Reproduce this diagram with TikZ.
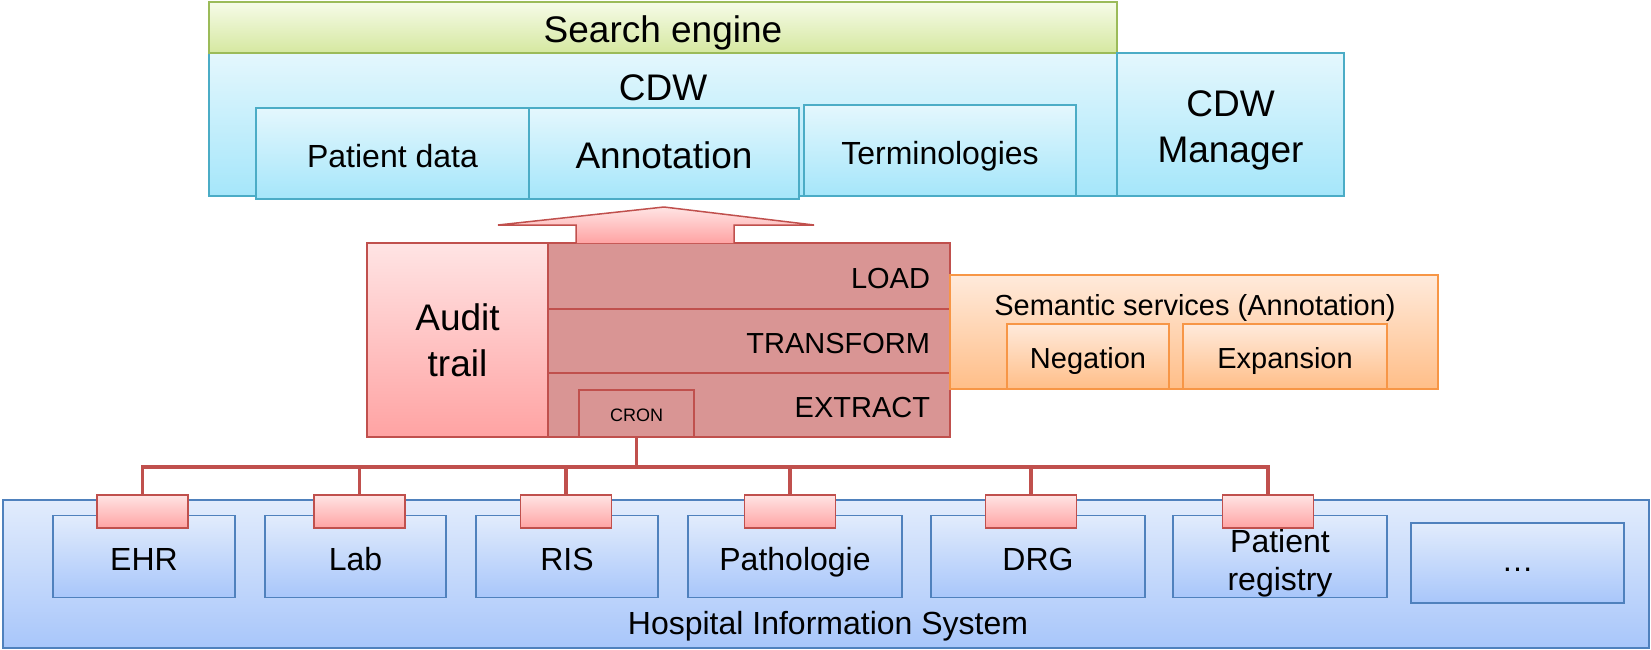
\documentclass[tikz,border=0pt]{standalone}
\usepackage{fontspec}
\setmainfont{Liberation Sans}
\usetikzlibrary{shadings}
\definecolor{grnB}{HTML}{9BBB59}
\definecolor{grnT}{HTML}{F6FBE8}
\definecolor{grnM}{HTML}{D5E8A0}
\definecolor{cyB}{HTML}{4BACC6}
\definecolor{cyT}{HTML}{E4F7FD}
\definecolor{cyM}{HTML}{A5E6FA}
\definecolor{rdB}{HTML}{C0504D}
\definecolor{rdT}{HTML}{FFE4E4}
\definecolor{rdM}{HTML}{FFA3A3}
\definecolor{rdF}{HTML}{D99594}
\definecolor{orB}{HTML}{F79646}
\definecolor{orT}{HTML}{FFEADB}
\definecolor{orM}{HTML}{FFBE88}
\definecolor{blB}{HTML}{4F81BD}
\definecolor{blT}{HTML}{E2ECFC}
\definecolor{blM}{HTML}{A8C6FA}
\newcommand{\fsA}{\fontsize{37}{46}\selectfont}
\newcommand{\fsB}{\fontsize{32}{38}\selectfont}
\newcommand{\fsC}{\fontsize{29}{34}\selectfont}
\newcommand{\fsD}{\fontsize{18}{22}\selectfont}
\tikzset{
  bx/.style={draw, line width=1.5pt, inner sep=0pt, outer sep=0pt, align=center, text=black},
  green/.style={bx, draw=grnB, top color=grnT, bottom color=grnM},
  cyan/.style={bx, draw=cyB, top color=cyT, bottom color=cyM},
  pinkg/.style={bx, draw=rdB, top color=rdT, bottom color=rdM},
  etl/.style={bx, draw=rdB, fill=rdF},
  orng/.style={bx, draw=orB, top color=orT, bottom color=orM},
  blu/.style={bx, draw=blB, top color=blT, bottom color=blM},
  capA/.style={font=\fsA, text height=30.5pt, text depth=0pt},
  capB/.style={font=\fsB, text height=27pt, text depth=0pt},
  capC/.style={font=\fsC, text height=24.8pt, text depth=0pt},
  capD/.style={font=\fsD, text height=15pt, text depth=0pt},
  etlrow/.style={etl, text width=362pt, inner xsep=20pt, align=right, capC},
  conn/.style={pinkg, minimum width=91pt, minimum height=33pt},
  hisbox/.style={blu, minimum width=182pt, minimum height=82pt, capB},
  bus/.style={draw=rdB, line width=3.5pt},
  txt/.style={inner sep=0pt, outer sep=0pt, text=black, align=center}
}
\begin{document}
\begin{tikzpicture}[x=1pt, y=-1pt]
\useasboundingbox (0,0) rectangle (1651,649);
% top
\node[cyan, minimum width=908pt, minimum height=143pt] (cdw) at (663,124.5) {};
\node[txt, capA] (cdwlab) at (663,85) {CDW};
\node[green, minimum width=908pt, minimum height=51pt, capA] (search) at (663,27.5) {Search engine};
\node[cyan, minimum width=227pt, minimum height=143pt] (mgr) at (1230.5,124.5) {};
\node[txt, font=\fsA] (mgrlab) at (1230.5,130.5) {CDW\\Manager};
\node[cyan, minimum width=273pt, minimum height=91pt, capB] (pdata) at (392.5,153.5) {Patient data};
\node[cyan, minimum width=270pt, minimum height=91pt, capA] (annot) at (664,153.5) {Annotation};
\node[cyan, minimum width=272pt, minimum height=91pt, capB] (term) at (940,150.5) {Terminologies};
% middle
\node[pinkg, minimum width=181pt, minimum height=194pt, font=\fsA] (audit) at (457.5,340) {Audit\\trail};
\node[etlrow, minimum height=66pt] (load) at (749,276) {LOAD};
\node[etlrow, minimum height=64pt] (transform) at (749,341) {TRANSFORM};
\node[etlrow, minimum height=64pt] (extract) at (749,405) {EXTRACT};
\node[etl, minimum width=115pt, minimum height=47pt, capD] (cron) at (636.5,413.5) {CRON};
\shade[top color=rdT, bottom color=rdM, draw=rdB, line width=1.5pt]
  ([xshift=28pt]load.north west) -- ++(0,-18) -- ++(-78,0) -- (annot.south |- 0,207)
  -- ([xshift=266pt,yshift=18pt]load.north west) -- ++(-80,0) -- ([xshift=186pt]load.north west);
\node[orng, minimum width=488pt, minimum height=114pt] (sem) at (1194,332) {};
\node[txt, capC] (semlab) at (1195,303) {Semantic services (Annotation)};
\node[orng, minimum width=162pt, minimum height=65pt, capC] (neg) at (1088,356.5) {Negation};
\node[orng, minimum width=204pt, minimum height=65pt, capC] (exp) at (1285,356.5) {Expansion};
% bottom
\node[blu, minimum width=1646pt, minimum height=148pt] (his) at (826,574) {};
\node[txt, capB] (hislab) at (828,620.5) {Hospital Information System};
\node[hisbox] (ehr) at (144,556.5) {EHR};
\node[hisbox, minimum width=181pt] (lab) at (355.5,556.5) {Lab};
\node[hisbox] (ris) at (567,556.5) {RIS};
\node[hisbox, minimum width=214pt] (patho) at (795,556.5) {Pathologie};
\node[hisbox, minimum width=214pt] (drg) at (1038,556.5) {DRG};
\node[hisbox, minimum width=214pt] (reg) at (1280,556.5) {};
\node[txt, font=\fsB] (reglab) at (1280,562.8) {Patient\\registry};
\node[hisbox, minimum width=213pt, minimum height=80pt, text height=16pt] (dots) at (1517.5,563) {\dots};
\coordinate (busy) at (0,467);
\node[conn] (c1) at (142.5,511.5) {};
\node[conn] (c2) at (359.5,511.5) {};
\node[conn] (c3) at (566,511.5) {};
\node[conn] (c4) at (790,511.5) {};
\node[conn] (c5) at (1031,511.5) {};
\node[conn] (c6) at (1268,511.5) {};
\draw[bus] (cron.south) -- (cron.south |- busy);
\draw[bus, line join=miter] (c1.north) -- (c1.north |- busy) -- (c6.north |- busy) -- (c6.north);
\draw[bus] (c2.north) -- (c2.north |- busy);
\draw[bus] (c3.north) -- (c3.north |- busy);
\draw[bus] (c4.north) -- (c4.north |- busy);
\draw[bus] (c5.north) -- (c5.north |- busy);
\end{tikzpicture}
\end{document}
